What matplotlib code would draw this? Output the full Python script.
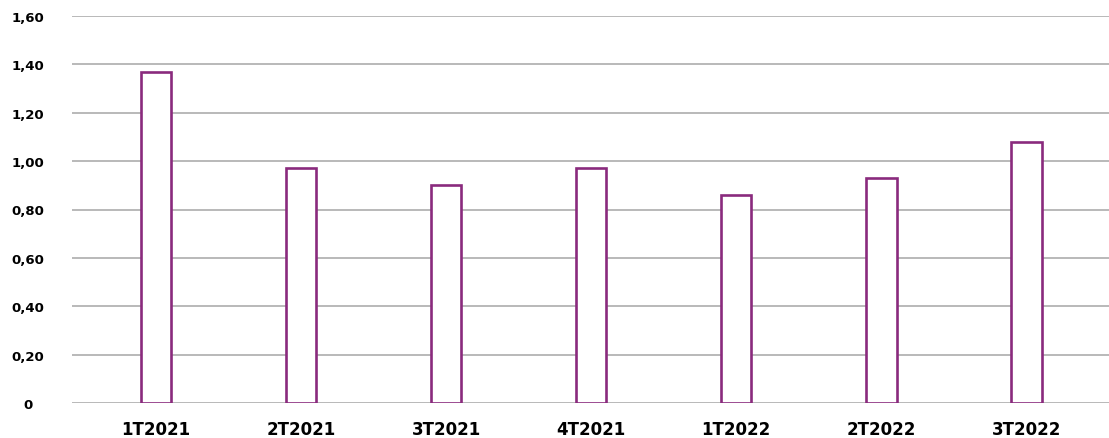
import matplotlib.pyplot as plt

quarters = ["1T2021", "2T2021", "3T2021", "4T2021", "1T2022", "2T2022", "3T2022"]
values = [1.37, 0.97, 0.90, 0.97, 0.86, 0.93, 1.08]
y_ticks = [0, 0.2, 0.4, 0.6, 0.8, 1.0, 1.2, 1.4, 1.6]
y_labels = ["0", "0,20", "0,40", "0,60", "0,80", "1,00", "1,20", "1,40", "1,60"]

purple = "#8a2a7d"

fig = plt.figure(figsize=(11.09, 4.39), dpi=100)
ax = fig.add_axes([72 / 1109, 35 / 439, 1037 / 1109, 387 / 439])

x = range(len(quarters))
ax.bar(x, values, width=0.21, color="white", edgecolor=purple, linewidth=1.9, zorder=3)

ax.set_ylim(0, 1.6)
ax.set_xlim(-0.58, 6.57)
ax.set_yticks(y_ticks)
ax.set_yticklabels(y_labels, fontsize=9.5, fontweight="bold", family="DejaVu Sans")
for lbl in ax.get_yticklabels():
    lbl.set_horizontalalignment("center")
ax.tick_params(axis="y", length=0, pad=32)
ax.set_xticks(list(x))
ax.set_xticklabels(quarters, fontsize=12, fontweight="bold", family="DejaVu Sans")
ax.tick_params(axis="x", length=0, pad=12)

ax.grid(axis="y", color="#a6a6a6", linewidth=1.1, zorder=0)
for s in ax.spines.values():
    s.set_visible(False)

fig.savefig("out.png", dpi=100)
